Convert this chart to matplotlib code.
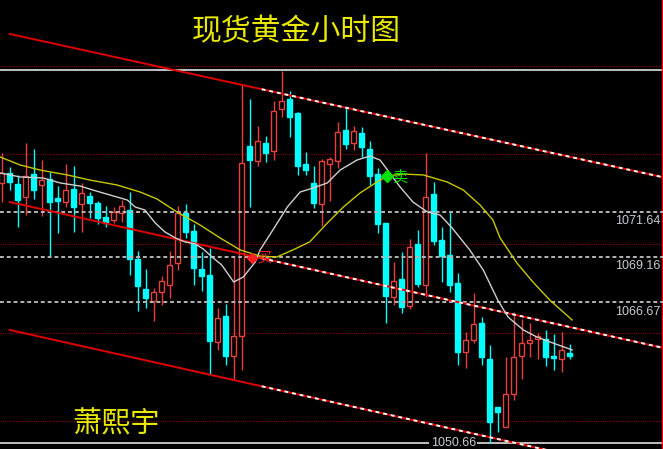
import numpy as np
import matplotlib.pyplot as plt
from matplotlib.patches import Rectangle

plt.rcParams['font.family'] = ['Noto Sans CJK SC', 'DejaVu Sans']

# hourly gold candles
opens = [1073.24, 1073.79, 1073.18, 1072.47, 1073.73, 1073.13, 1073.46, 1072.41, 1072.19, 1072.91,
         1072.08, 1072.52, 1072.14, 1071.36, 1071.20, 1071.58, 1071.75, 1069.05, 1067.40, 1066.73,
         1067.23, 1067.62, 1068.83, 1071.58, 1070.59, 1068.50, 1068.17, 1064.48, 1065.91, 1063.70,
         1064.81, 1075.28, 1074.45, 1075.44, 1075.00, 1077.31, 1077.86, 1077.09, 1074.28, 1073.24,
         1072.08, 1074.28, 1074.45, 1076.16, 1075.44, 1075.99, 1075.11, 1073.73, 1071.03, 1066.96,
         1067.95, 1066.46, 1069.88, 1067.62, 1072.63, 1070.10, 1069.27, 1067.73, 1063.92, 1064.59,
         1065.52, 1063.54, 1060.89, 1059.79, 1061.61, 1063.70, 1064.42, 1064.64, 1064.64, 1063.70,
         1063.54, 1063.87]
highs = [1074.89, 1074.12, 1073.68, 1075.44, 1075.11, 1074.50, 1073.84, 1073.07, 1074.28, 1074.17,
         1073.24, 1072.74, 1072.25, 1071.97, 1071.91, 1072.30, 1072.74, 1069.49, 1068.50, 1067.45,
         1068.11, 1069.49, 1071.97, 1072.08, 1070.98, 1069.44, 1069.66, 1066.35, 1066.57, 1069.16,
         1078.64, 1077.86, 1076.38, 1075.83, 1077.75, 1079.41, 1078.31, 1077.15, 1074.95, 1074.17,
         1074.56, 1074.67, 1076.60, 1077.37, 1076.38, 1076.32, 1075.55, 1074.06, 1071.03, 1068.88,
         1069.44, 1070.15, 1070.65, 1074.89, 1073.29, 1070.81, 1071.69, 1068.28, 1065.03, 1067.18,
         1065.85, 1064.31, 1060.89, 1063.65, 1066.13, 1065.74, 1065.52, 1064.97, 1065.14, 1064.92,
         1065.03, 1064.37]
lows = [1072.19, 1072.85, 1070.81, 1071.47, 1072.36, 1071.42, 1069.16, 1070.48, 1071.91, 1070.54,
        1070.54, 1071.31, 1070.98, 1070.81, 1071.03, 1071.09, 1068.17, 1066.18, 1066.35, 1065.63,
        1066.51, 1066.90, 1068.44, 1070.21, 1067.62, 1067.29, 1062.66, 1064.04, 1063.21, 1062.38,
        1062.93, 1071.91, 1074.17, 1074.39, 1074.50, 1076.87, 1075.77, 1073.68, 1073.68, 1071.86,
        1070.87, 1072.25, 1074.06, 1075.11, 1075.06, 1074.67, 1073.13, 1070.48, 1065.52, 1066.51,
        1066.07, 1066.29, 1067.51, 1066.96, 1069.82, 1067.78, 1067.23, 1063.21, 1063.04, 1064.42,
        1063.21, 1058.91, 1059.52, 1059.79, 1061.28, 1062.44, 1063.65, 1063.54, 1063.15, 1062.93,
        1062.82, 1063.54]
closes = [1073.79, 1073.29, 1072.30, 1073.62, 1072.85, 1073.40, 1072.19, 1072.25, 1072.85, 1071.91,
          1072.69, 1072.14, 1071.31, 1071.03, 1071.64, 1071.97, 1069.05, 1067.56, 1066.90, 1067.23,
          1067.84, 1068.72, 1071.58, 1070.54, 1068.55, 1068.11, 1064.53, 1065.80, 1063.70, 1064.81,
          1074.34, 1074.50, 1075.55, 1074.89, 1077.20, 1077.75, 1076.87, 1074.17, 1073.95, 1072.14,
          1074.45, 1074.56, 1076.05, 1075.39, 1076.10, 1075.22, 1073.62, 1070.98, 1067.01, 1067.84,
          1066.40, 1069.71, 1067.67, 1072.47, 1070.04, 1069.21, 1067.62, 1063.92, 1064.59, 1065.47,
          1063.65, 1060.07, 1060.62, 1061.61, 1063.65, 1064.42, 1064.59, 1064.81, 1063.65, 1063.59,
          1064.04, 1063.70]

# fast (white) and slow (yellow) moving averages, sampled at bar positions
ma_fast_bar = [-0.2, 2.3, 5.2, 7.3, 9.8, 11.4, 13.5, 15.7, 16.7, 17.9, 19.2, 20.4, 21.7, 22.9, 24.2,
               25.2, 26.3, 27.5, 29.0, 30.2, 31.7, 32.3, 33.9, 35.7, 37.3, 38.9, 40.7, 42.3, 44.4,
               46.0, 47.3, 48.5, 49.8, 51.4, 53.2, 54.8, 56.3, 58.5, 60.2, 62.0, 63.3, 65.2, 66.9,
               68.9, 71.3]
ma_fast = [1073.79, 1073.57, 1073.51, 1073.24, 1073.07, 1072.85, 1072.58, 1072.30, 1071.91, 1071.75,
           1071.03, 1070.54, 1070.21, 1069.99, 1069.88, 1069.60, 1069.16, 1068.72, 1067.78, 1068.06,
           1068.88, 1069.55, 1070.65, 1071.91, 1072.74, 1072.96, 1073.24, 1073.95, 1074.50, 1074.72,
           1074.50, 1073.79, 1073.02, 1072.19, 1071.64, 1071.47, 1070.76, 1069.55, 1068.44, 1066.79,
           1065.85, 1065.14, 1064.75, 1064.42, 1064.04]
ma_slow_bar = [-0.2, 2.3, 4.8, 8.2, 11.0, 14.4, 17.3, 19.4, 21.9, 24.8, 27.3, 29.8, 32.3, 34.4, 36.4,
               38.5, 40.7, 42.7, 44.8, 46.9, 48.2, 50.2, 52.7, 55.7, 57.7, 59.8, 61.4, 62.3, 64.4,
               66.4, 68.5, 71.3]
ma_slow = [1074.67, 1074.23, 1073.95, 1073.68, 1073.40, 1073.13, 1072.74, 1072.36, 1071.64, 1070.92,
           1070.21, 1069.55, 1069.21, 1069.16, 1069.55, 1069.99, 1071.03, 1071.91, 1072.69, 1073.29,
           1073.62, 1073.73, 1073.68, 1073.29, 1072.85, 1072.02, 1071.20, 1070.21, 1068.83, 1067.78,
           1066.79, 1065.69]

# channel lines: (bar, price) at both ends
chan_bar = [1.0, 82.7]
chan_top = [1081.45, 1073.55]
chan_mid = [1072.19, 1064.15]
chan_bot = [1065.14, 1057.09]

level_prices = [1071.64, 1069.16, 1066.67]
level_labels = ['1071.64', '1069.16', '1066.67']
grid_prices = [1079.68, 1074.81, 1069.90, 1064.97, 1060.12]
top_line = 1079.46
low_label = '1050.66'

RED = '#e8403c'
CYAN = '#00ffff'

fig = plt.figure(figsize=(6.63, 4.49), dpi=100, facecolor='black')
ax = fig.add_axes([0, 0, 1, 1])
ax.set_xlim(-0.21, 82.66)
ax.set_ylim(1058.58, 1083.32)
ax.axis('off')

for p in grid_prices:
    ax.axhline(p, color='#8b0000', lw=0.8, ls=(0, (1, 1)), zorder=1)
ax.axhline(top_line, color='#c0c0c0', lw=1.4, zorder=1)
ax.axhline(min(lows), color='#c0c0c0', lw=1.4, zorder=1)
ax.axvline(82.54, color='#ff0000', lw=1, zorder=1)

# candles
w = 0.66
for i, (o, h, l, c) in enumerate(zip(opens, highs, lows, closes)):
    up = c >= o
    col = RED if up else CYAN
    ax.vlines(i, l, h, color=col, lw=1, zorder=3)
    bottom = min(o, c)
    height = max(abs(c - o), 0.04)
    ax.add_patch(Rectangle((i - w / 2, bottom), w, height,
                           facecolor='black' if up else col, edgecolor=col,
                           lw=1, zorder=4))

# dashed levels with labels
for p, lab in zip(level_prices, level_labels):
    ax.axhline(p, color='#b4b4b4', lw=1.4, ls=(0, (2.0, 1.5)), zorder=5)
    ax.annotate(lab, xy=(82.3, p), xytext=(0, -2.5), textcoords='offset points',
                ha='right', va='top', color='#c4ccd4', fontsize=9,
                family='Liberation Sans', zorder=8)

# channel
for line in [chan_top, chan_mid, chan_bot]:
    ax.plot(chan_bar, line, color='#e00000', lw=1.4, zorder=6)
    slope = (line[1] - line[0]) / (chan_bar[1] - chan_bar[0])
    xs = [32.5, chan_bar[1]]
    ys = [line[0] + slope * (x - chan_bar[0]) for x in xs]
    ax.plot(xs, ys, color='white', lw=1.4, ls=(0, (2, 2)), zorder=6)

# moving averages
ax.plot(ma_fast_bar, ma_fast, color='#d0d0d0', lw=1, zorder=7)
ax.plot(ma_slow_bar, ma_slow, color='#c8c800', lw=1, zorder=7)

# cross signals
ax.plot(31.3, 1069.10, marker='D', ms=5, color='#ff2020', zorder=8)
ax.text(32.0, 1069.10, '买', color='#ff2020', fontsize=10, ha='left', va='center', zorder=8)
ax.plot(48.2, 1073.62, marker='D', ms=6, color='#00e000', zorder=8)
ax.text(48.9, 1073.56, '卖', color='#00e000', fontsize=11, ha='left', va='center', zorder=8)

# low tag
ax.text(59.3, min(lows), low_label, ha='right', va='center', color='#c4ccd4', fontsize=9,
        family='Liberation Sans', zorder=8,
        bbox=dict(facecolor='black', edgecolor='none', pad=1))

fig.text(296 / 663, 1 - 32 / 449, '现货黄金小时图', ha='center', va='center',
         fontsize=21.5, color='#e8e800')
fig.text(116 / 663, 1 - 425 / 449, '萧熙宇', ha='center', va='center',
         fontsize=21, color='#e8e800')

fig.savefig('out.png', dpi=100, facecolor='black')
